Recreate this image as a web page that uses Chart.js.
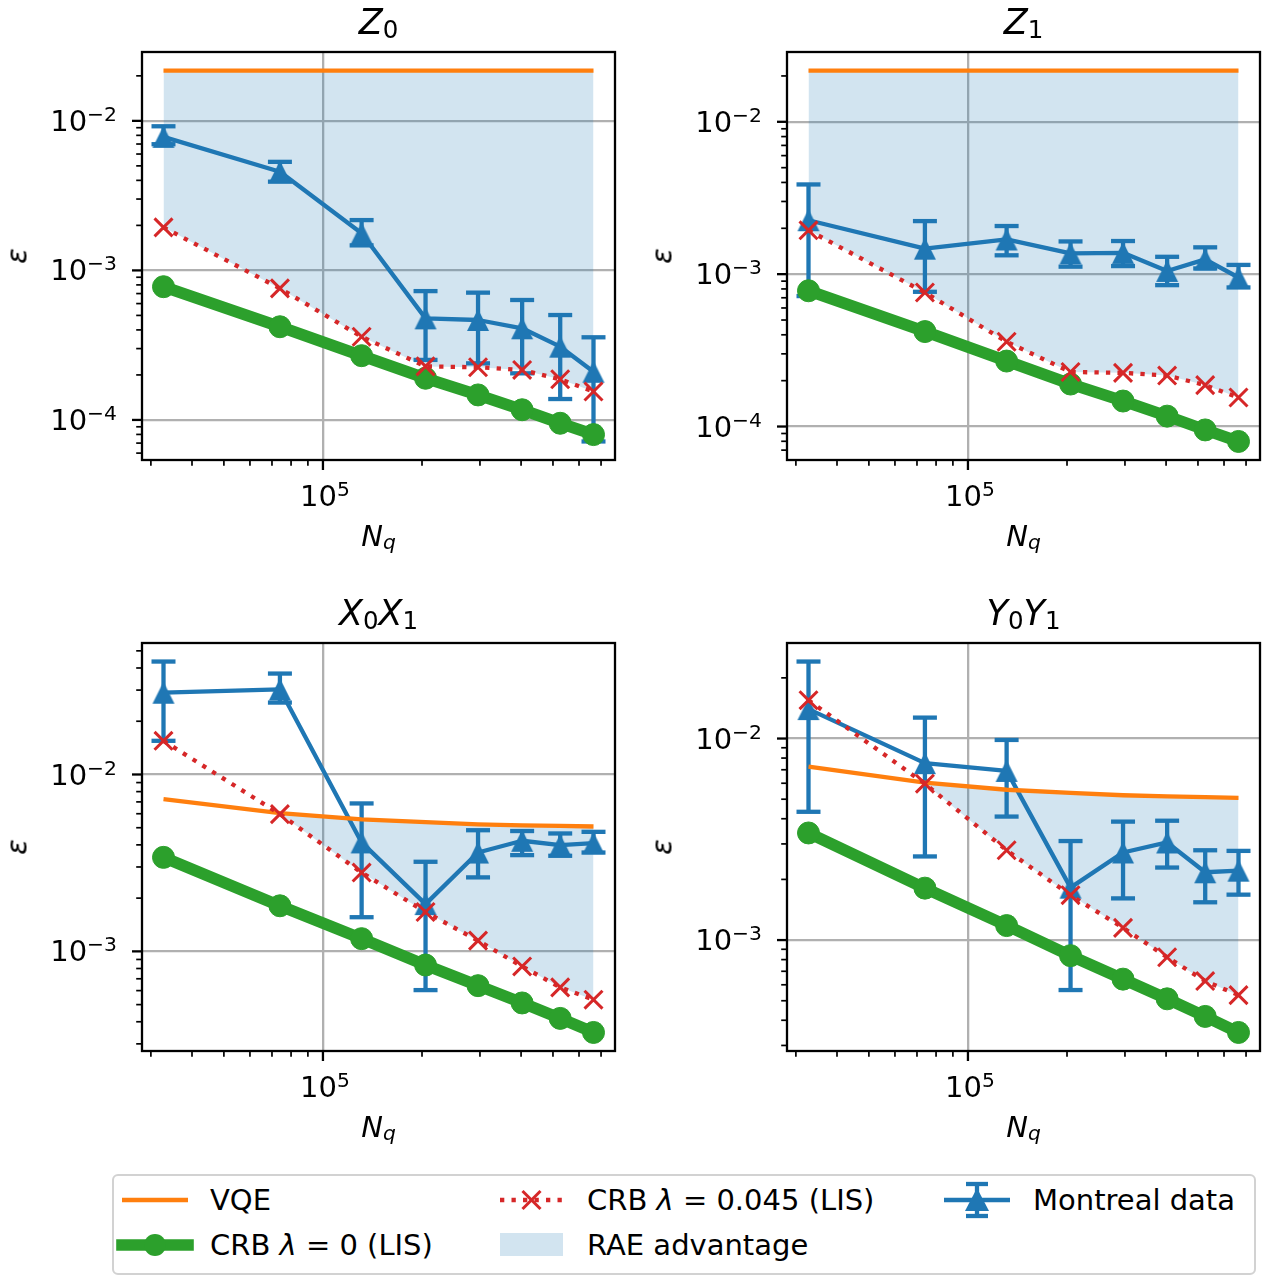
<!DOCTYPE html>
<html>
<head>
<meta charset="utf-8">
<script src="https://cdn.jsdelivr.net/npm/chart.js@4.4.1/dist/chart.umd.min.js"></script>
<style>
  html, body { margin: 0; padding: 0; background: #fff; }
  #fig { position: relative; width: 1272px; height: 1277px; font-family: "DejaVu Sans", sans-serif; color: #000; overflow: hidden; }
  .panel { position: absolute; }
  .txt { position: absolute; white-space: nowrap; line-height: 1; }
  .txt sub { font-size: 70%; vertical-align: -0.16em; line-height: 0; }
  .txt sup { font-size: 70%; vertical-align: 10px; line-height: 0; }
  .title { font-size: 35px; transform: translateX(-50%); }
  .xlabel { font-size: 29px; transform: translateX(-50%); }
  .ylabel { font-size: 29px; font-style: italic; transform: translate(-50%, -50%) rotate(-90deg); }
  .xtick { font-size: 29px; transform: translateX(-50%); }
  .ytick { font-size: 29px; transform: translateX(-100%); }
  #legend { position: absolute; left: 112px; top: 1174px; width: 1144px; height: 101px; box-sizing: border-box;
            border: 2px solid #d2d2d2; border-radius: 6px; background: #fff; }
  #legend svg { position: absolute; left: -2px; top: -2px; }
  #legend .item { position: absolute; font-size: 29px; line-height: 1; white-space: nowrap; }
</style>
</head>
<body>
<div id="fig">
  <div id="legend">
    <svg width="1144" height="101">
      <line x1="10" y1="26" x2="76" y2="26" stroke="#ff7f0e" stroke-width="4.3"/>
      <line x1="10" y1="71" x2="76" y2="71" stroke="#2ca02c" stroke-width="11.6" stroke-linecap="square"/>
      <circle cx="43" cy="71" r="11" fill="#2ca02c"/>
      <line x1="388" y1="26" x2="451" y2="26" stroke="#d62728" stroke-width="4.3" stroke-dasharray="4.3 7.2"/>
      <line x1="410.5" y1="17" x2="428.5" y2="35" stroke="#d62728" stroke-width="3"/>
      <line x1="410.5" y1="35" x2="428.5" y2="17" stroke="#d62728" stroke-width="3"/>
      <rect x="388" y="59" width="63" height="23" fill="rgba(31,119,180,0.2)"/>
      <line x1="832" y1="26" x2="898" y2="26" stroke="#1f77b4" stroke-width="4.3"/>
      <line x1="865" y1="10" x2="865" y2="42" stroke="#1f77b4" stroke-width="4.3"/>
      <line x1="854" y1="10" x2="876" y2="10" stroke="#1f77b4" stroke-width="4.3"/>
      <line x1="854" y1="42" x2="876" y2="42" stroke="#1f77b4" stroke-width="4.3"/>
      <polygon points="865,14 853,37 877,37" fill="#1f77b4"/>
    </svg>
    <div class="item" style="left:96px; top:10px;">VQE</div>
    <div class="item" style="left:96px; top:55px;">CRB <i>λ</i> = 0 (LIS)</div>
    <div class="item" style="left:473px; top:10px;">CRB <i>λ</i> = 0.045 (LIS)</div>
    <div class="item" style="left:473px; top:55px;">RAE advantage</div>
    <div class="item" style="left:919px; top:10px;">Montreal data</div>
  </div>
</div>
<script>
// --- DADOS ---
const N_Q = [32768, 74000, 131072, 205000, 296000, 403000, 526000, 664000];

// curvas teóricas Z0 / Z1
const VQE_Z = [0.0217, 0.0217, 0.0217, 0.0217, 0.0217, 0.0217, 0.0217, 0.0217];
const CRB0_Z = [7.78e-4, 4.20e-4, 2.69e-4, 1.90e-4, 1.47e-4, 1.17e-4, 9.5e-5, 7.98e-5];
const CRB045_Z = [1.94e-3, 7.58e-4, 3.60e-4, 2.28e-4, 2.25e-4, 2.16e-4, 1.87e-4, 1.55e-4];

// curvas teóricas X0X1 / Y0Y1
const VQE_XX = [7.25e-3, 6.05e-3, 5.57e-3, 5.38e-3, 5.23e-3, 5.16e-3, 5.12e-3, 5.08e-3];
const CRB0_XX = [3.40e-3, 1.81e-3, 1.18e-3, 8.37e-4, 6.40e-4, 5.11e-4, 4.18e-4, 3.48e-4];
const CRB045_XX = [1.55e-2, 5.97e-3, 2.79e-3, 1.67e-3, 1.15e-3, 8.22e-4, 6.26e-4, 5.33e-4];

// dados Montreal (média, limite inferior, limite superior)
const Z0_MEAN = [7.82e-3, 4.57e-3, 1.77e-3, 4.78e-4, 4.66e-4, 4.10e-4, 3.09e-4, 2.10e-4];
const Z0_LO   = [6.98e-3, 3.92e-3, 1.47e-3, 2.52e-4, 2.39e-4, 2.05e-4, 1.38e-4, 7.18e-5];
const Z0_HI   = [9.20e-3, 5.32e-3, 2.17e-3, 7.27e-4, 7.10e-4, 6.34e-4, 5.03e-4, 3.57e-4];

const Z1_MEAN = [2.26e-3, 1.47e-3, 1.69e-3, 1.37e-3, 1.38e-3, 1.05e-3, 1.25e-3, 9.51e-4];
const Z1_LO   = [7.18e-4, 7.66e-4, 1.33e-3, 1.12e-3, 1.13e-3, 8.47e-4, 1.09e-3, 8.18e-4];
const Z1_HI   = [3.88e-3, 2.23e-3, 2.07e-3, 1.64e-3, 1.65e-3, 1.30e-3, 1.50e-3, 1.15e-3];

const XX_MEAN = [2.90e-2, 3.03e-2, 4.13e-3, 1.85e-3, 3.62e-3, 4.22e-3, 3.99e-3, 4.09e-3];
const XX_LO   = [1.55e-2, 2.55e-2, 1.56e-3, 6.04e-4, 2.62e-3, 3.50e-3, 3.47e-3, 3.62e-3];
const XX_HI   = [4.35e-2, 3.72e-2, 6.86e-3, 3.21e-3, 4.84e-3, 4.79e-3, 4.64e-3, 4.74e-3];

const YY_MEAN = [1.40e-2, 7.55e-3, 6.91e-3, 1.82e-3, 2.72e-3, 3.05e-3, 2.17e-3, 2.21e-3];
const YY_LO   = [4.33e-3, 2.60e-3, 4.10e-3, 5.65e-4, 1.61e-3, 2.29e-3, 1.54e-3, 1.68e-3];
const YY_HI   = [2.41e-2, 1.27e-2, 9.84e-3, 3.10e-3, 3.87e-3, 3.91e-3, 2.79e-3, 2.77e-3];

const PANELS = [
    { title: '<i>Z</i><sub>0</sub>', vqe: VQE_Z, crb0: CRB0_Z, crb045: CRB045_Z, mean: Z0_MEAN, lo: Z0_LO, hi: Z0_HI },
    { title: '<i>Z</i><sub>1</sub>', vqe: VQE_Z, crb0: CRB0_Z, crb045: CRB045_Z, mean: Z1_MEAN, lo: Z1_LO, hi: Z1_HI },
    { title: '<i>X</i><sub>0</sub><i>X</i><sub>1</sub>', vqe: VQE_XX, crb0: CRB0_XX, crb045: CRB045_XX, mean: XX_MEAN, lo: XX_LO, hi: XX_HI },
    { title: '<i>Y</i><sub>0</sub><i>Y</i><sub>1</sub>', vqe: VQE_XX, crb0: CRB0_XX, crb045: CRB045_XX, mean: YY_MEAN, lo: YY_LO, hi: YY_HI }
];

// --- LAYOUT ---
const OFFS_X = [0, 645];
const OFFS_Y = [0, 591];
const CW = 640, CH = 590;
const AREA = { left: 142, top: 52, right: 615, bottom: 460 };

const C_BLUE = '#1f77b4', C_ORANGE = '#ff7f0e', C_GREEN = '#2ca02c', C_RED = '#d62728';

function isDecade(v) {
    const l = Math.log10(v);
    return Math.abs(l - Math.round(l)) < 1e-9;
}

function decadeHtml(v) {
    const e = Math.round(Math.log10(v));
    return '10<sup>' + (e < 0 ? '\u2212' + (-e) : e) + '</sup>';
}

// limites como o autoscale do matplotlib (margem de 5% em escala log)
function logLimits(values) {
    const logs = values.filter(v => v > 0).map(v => Math.log10(v));
    const lo = Math.min(...logs), hi = Math.max(...logs);
    const m = 0.05 * (hi - lo);
    return [Math.pow(10, lo - m), Math.pow(10, hi + m)];
}

function buildLogTicks(scale) {
    const ticks = [];
    const e0 = Math.floor(Math.log10(scale.min)), e1 = Math.ceil(Math.log10(scale.max));
    for (let e = e0; e <= e1; e++) {
        for (let k = 1; k <= 9; k++) {
            const v = Number((k * Math.pow(10, e)).toPrecision(6));
            if (v >= scale.min && v <= scale.max) ticks.push({ value: v });
        }
    }
    scale.ticks = ticks;
}

// marcador triângulo estilo matplotlib (centrado na caixa)
const triangleMarker = document.createElement('canvas');
triangleMarker.width = 24; triangleMarker.height = 24;
(function () {
    const c = triangleMarker.getContext('2d');
    c.fillStyle = C_BLUE;
    c.beginPath();
    c.moveTo(12, 1); c.lineTo(1, 23); c.lineTo(23, 23); c.closePath();
    c.fill();
})();

// moldura + marcas dos ticks (maiores e menores)
const framePlugin = {
    id: 'frame',
    afterDraw(chart) {
        const { ctx, chartArea: a } = chart;
        const sx = chart.scales.x, sy = chart.scales.y;
        ctx.save();
        ctx.strokeStyle = '#000';
        sx.ticks.forEach(t => {
            const major = isDecade(t.value);
            const px = sx.getPixelForValue(t.value);
            ctx.lineWidth = major ? 2.3 : 1.7;
            ctx.beginPath();
            ctx.moveTo(px, a.bottom);
            ctx.lineTo(px, a.bottom + (major ? 10 : 5.8));
            ctx.stroke();
        });
        sy.ticks.forEach(t => {
            const major = isDecade(t.value);
            const py = sy.getPixelForValue(t.value);
            ctx.lineWidth = major ? 2.3 : 1.7;
            ctx.beginPath();
            ctx.moveTo(a.left, py);
            ctx.lineTo(a.left - (major ? 10 : 5.8), py);
            ctx.stroke();
        });
        ctx.lineWidth = 2.3;
        ctx.strokeRect(a.left, a.top, a.right - a.left, a.bottom - a.top);
        ctx.restore();
    }
};

function addText(cls, html, left, top) {
    const d = document.createElement('div');
    d.className = 'txt ' + cls;
    d.innerHTML = html;
    d.style.left = left + 'px';
    d.style.top = top + 'px';
    document.getElementById('fig').appendChild(d);
}

function renderPanel(p, idx) {
    const ox = OFFS_X[idx % 2], oy = OFFS_Y[Math.floor(idx / 2)];
    const canvas = document.createElement('canvas');
    canvas.className = 'panel';
    canvas.width = CW; canvas.height = CH;
    canvas.style.left = ox + 'px'; canvas.style.top = oy + 'px';
    canvas.style.width = CW + 'px'; canvas.style.height = CH + 'px';
    document.getElementById('fig').appendChild(canvas);

    const [xMin, xMax] = logLimits(N_Q);
    const [yMin, yMax] = logLimits([].concat(p.vqe, p.crb0, p.crb045, p.lo, p.hi));

    const pts = arr => N_Q.map((x, i) => ({ x: x, y: arr[i] }));
    // região de vantagem: só onde o VQE fica acima do CRB λ=0.045
    const adv = N_Q.map((x, i) => p.vqe[i] > p.crb045[i]);
    const masked = arr => N_Q.map((x, i) => ({ x: x, y: adv[i] ? arr[i] : null }));

    const datasets = [
        { data: masked(p.crb045), borderColor: 'rgba(0,0,0,0)', borderWidth: 1, pointRadius: 0, fill: false, order: 20 },
        { data: masked(p.vqe), borderColor: 'rgba(0,0,0,0)', borderWidth: 1, pointRadius: 0,
          fill: '-1', backgroundColor: 'rgba(31,119,180,0.2)', order: 19 }
    ];
    N_Q.forEach((x, i) => {
        datasets.push({
            data: [{ x: x, y: p.lo[i] }, { x: x, y: p.hi[i] }],
            borderColor: C_BLUE, borderWidth: 4.3, borderCapStyle: 'butt',
            pointStyle: 'line', pointRadius: 12, pointBorderWidth: 4.3,
            pointBorderColor: C_BLUE, fill: false, order: 10
        });
    });
    datasets.push(
        { data: pts(p.mean), borderColor: C_BLUE, borderWidth: 4.3, borderJoinStyle: 'round',
          pointStyle: triangleMarker, pointRadius: 11, fill: false, order: 8 },
        { data: pts(p.vqe), borderColor: C_ORANGE, borderWidth: 4.3, pointRadius: 0, fill: false, order: 7 },
        { data: pts(p.crb0), borderColor: C_GREEN, borderWidth: 11.6, borderJoinStyle: 'round',
          pointStyle: 'circle', pointRadius: 11, pointBackgroundColor: C_GREEN,
          pointBorderColor: C_GREEN, pointBorderWidth: 1, fill: false, order: 6 },
        { data: pts(p.crb045), borderColor: C_RED, borderWidth: 4.3, borderDash: [4.3, 7.2],
          pointStyle: 'crossRot', pointRadius: 12.7, pointBorderWidth: 3,
          pointBorderColor: C_RED, fill: false, order: 5 }
    );

    const gridColor = ctx => (ctx.tick && isDecade(ctx.tick.value)) ? '#b0b0b0' : 'rgba(0,0,0,0)';

    const chart = new Chart(canvas, {
        type: 'line',
        data: { datasets: datasets },
        options: {
            responsive: false,
            devicePixelRatio: 1,
            animation: false,
            events: [],
            layout: { padding: { left: 0, top: AREA.top, right: CW - AREA.right, bottom: 0 } },
            elements: { line: { tension: 0 } },
            plugins: { legend: { display: false }, tooltip: { enabled: false }, title: { display: false } },
            scales: {
                x: {
                    type: 'logarithmic', min: xMin, max: xMax,
                    afterBuildTicks: buildLogTicks,
                    afterFit(scale) {
                        scale.height = CH - AREA.bottom;
                        scale.paddingLeft = scale.paddingRight = scale.paddingTop = scale.paddingBottom = 0;
                    },
                    border: { display: false },
                    grid: { color: gridColor, lineWidth: 2.3, drawTicks: false },
                    ticks: { display: false, autoSkip: false }
                },
                y: {
                    type: 'logarithmic', min: yMin, max: yMax,
                    afterBuildTicks: buildLogTicks,
                    afterFit(scale) {
                        scale.width = AREA.left;
                        scale.paddingLeft = scale.paddingRight = scale.paddingTop = scale.paddingBottom = 0;
                    },
                    border: { display: false },
                    grid: { color: gridColor, lineWidth: 2.3, drawTicks: false },
                    ticks: { display: false, autoSkip: false }
                }
            }
        },
        plugins: [framePlugin]
    });

    // rótulos dos ticks (potências de 10) posicionados pela escala do Chart.js
    chart.scales.x.ticks.filter(t => isDecade(t.value)).forEach(t => {
        const px = chart.scales.x.getPixelForValue(t.value);
        addText('xtick', decadeHtml(t.value), ox + px + 2, oy + AREA.bottom + 47 - 0.846 * 29);
    });
    chart.scales.y.ticks.filter(t => isDecade(t.value)).forEach(t => {
        const py = chart.scales.y.getPixelForValue(t.value);
        addText('ytick', decadeHtml(t.value), ox + AREA.left - 25, oy + py + 10.6 - 0.846 * 29);
    });

    const cx = ox + (AREA.left + AREA.right) / 2;
    // título: linha de base 17px acima do eixo
    addText('title', p.title, cx, oy + AREA.top - 17 - 0.846 * 35);
    addText('xlabel', '<i>N</i><sub><i>q</i></sub>', cx, oy + 547 - 0.846 * 29);
    addText('ylabel', 'ε', ox + 17, oy + (AREA.top + AREA.bottom) / 2);
}

PANELS.forEach(renderPanel);
</script>
</body>
</html>
